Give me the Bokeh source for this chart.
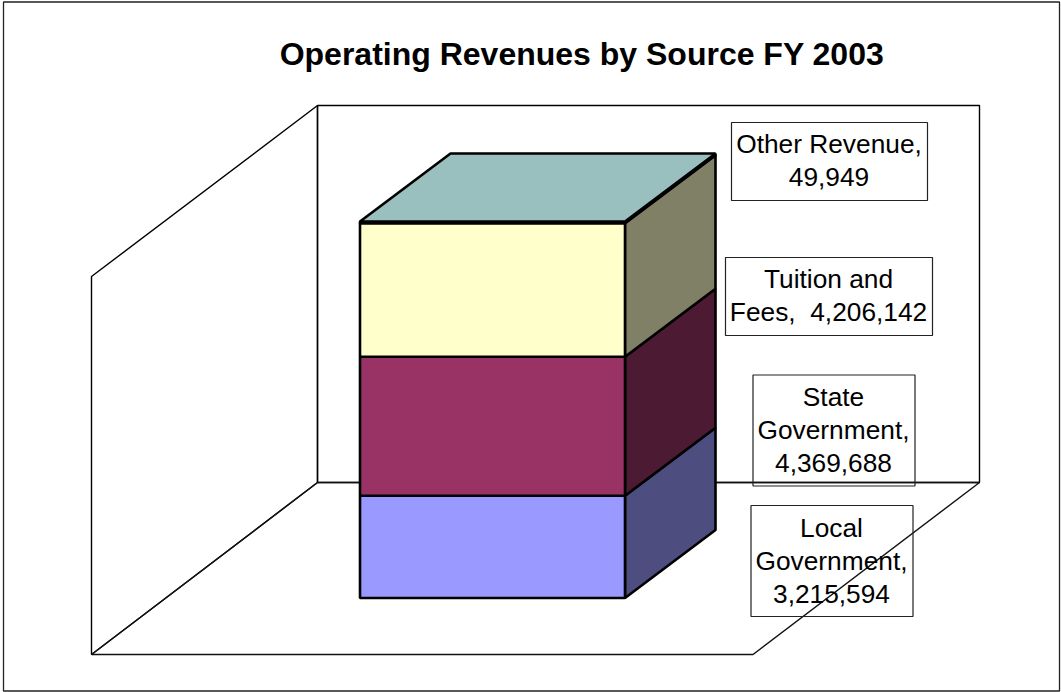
from bokeh.core.properties import value
from bokeh.embed import file_html
from bokeh.models import Range1d
from bokeh.plotting import figure
from bokeh.resources import INLINE

# Revenue sources, bottom of the stack first
sources = ["Local Government", "State Government", "Tuition and Fees", "Other Revenue"]
revenues = [3215594, 4369688, 4206142, 49949]
front_colors = ["#9999FF", "#993366", "#FFFFCC", "#CCFFFF"]
side_colors = ["#4D4D80", "#4D1A33", "#808066", "#668080"]
top_color = "#99BFBF"
label_lines = [
    ["Local", "Government,", "{:,}"],
    ["State", "Government,", "{:,}"],
    ["Tuition and", "Fees,\u00a0 {:,}"],
    ["Other Revenue,", "{:,}"],
]

W, H = 1061, 692
FONT = "Liberation Sans"

# The stack is 376.5 px tall; the revenue scale is derived from that and the total
total = sum(revenues)
BASE_PX = 597.5
units_per_px = total / 376.5

p = figure(width=W, height=H, output_backend="svg", toolbar_location=None,
           x_range=Range1d(0, W), y_range=Range1d(H, 0),
           min_border=0, outline_line_color=None)
p.axis.visible = False
p.grid.visible = False
p.extra_y_ranges["revenue"] = Range1d((BASE_PX - H) * units_per_px, BASE_PX * units_per_px)

# Chart area frame
p.quad(left=[3], right=[1059], top=[1.5], bottom=[690.5],
       fill_color=None, line_color="#222222", line_width=1.3)

# Open box: back wall, side wall and floor of the 3-D scene
p.patch([317, 979, 979, 317], [105, 105, 482, 482], fill_color=None,
        line_color="black", line_width=1.4)
p.patch([91, 317, 317, 91], [276, 105, 482, 654], fill_color=None,
        line_color="black", line_width=1.4)
p.patch([91, 752.5, 979, 317], [654, 654, 482, 482], fill_color=None,
        line_color="#111111", line_width=1.4)

# Stacked 3-D column drawn on the revenue scale
x0, x1 = 359.5, 624.5
dx = 90.5
dy = 68 * units_per_px
bottom = 0
for amount, front, side in zip(revenues, front_colors, side_colors):
    top = bottom + amount
    p.patch([x1, x1 + dx, x1 + dx, x1], [bottom, bottom + dy, top + dy, top],
            fill_color=side, line_color="black", line_width=2.6, y_range_name="revenue")
    p.quad(left=[x0], right=[x1], bottom=[bottom], top=[top],
           fill_color=front, line_color="black", line_width=2.6, y_range_name="revenue")
    bottom = top
p.patch([x0, x1, x1 + dx, x0 + dx], [bottom, bottom, bottom + dy, bottom + dy],
        fill_color=top_color, line_color="black", line_width=2.6, y_range_name="revenue")

# Data label boxes: left, right, top, bottom, first text line
boxes = [
    (750.5, 912.5, 505, 616, 527),
    (752.5, 914.5, 374.5, 485.5, 396.5),
    (725, 932, 257, 335, 278.5),
    (731, 927, 122, 200, 143.5),
]
for amount, lines, (left, right, box_top, box_bottom, first) in zip(revenues, label_lines, boxes):
    p.quad(left=[left], right=[right], top=[box_top], bottom=[box_bottom],
           fill_color=None, line_color="#222222", line_width=1.2)
    for i, line in enumerate(lines):
        p.text(x=[(left + right) / 2 - 0.5], y=[first + i * 33], text=[line.format(amount)],
               text_font=value(FONT), text_font_size="26.3px", text_color="black",
               text_align="center", text_baseline="middle")

p.text(x=[581.5], y=[53], text=["Operating Revenues by Source FY 2003"],
       text_font=value(FONT), text_font_style="bold", text_font_size="32px",
       text_color="black", text_align="center", text_baseline="middle")

open("out.html", "w").write(file_html(p, INLINE))
